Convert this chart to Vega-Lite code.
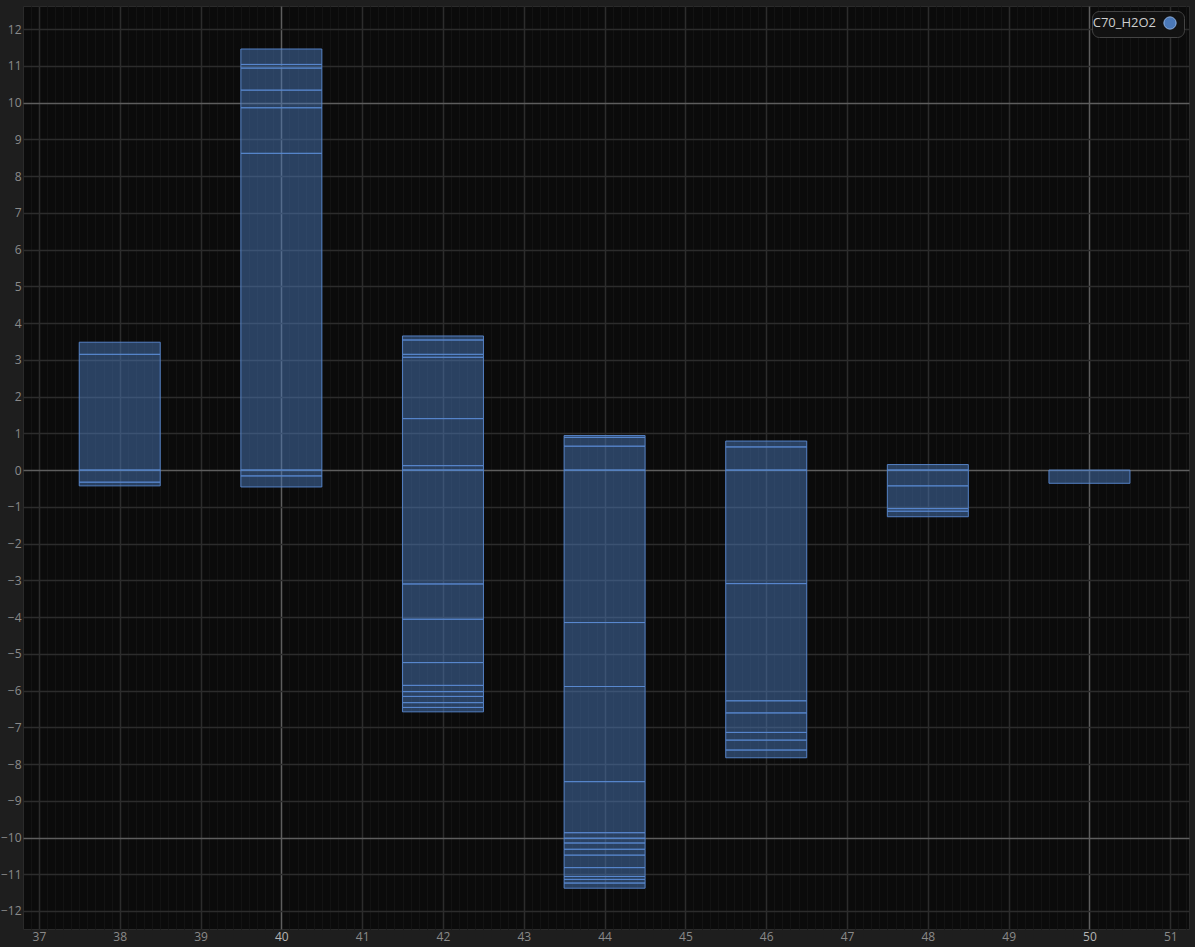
{
  "$schema": "https://vega.github.io/schema/vega-lite/v6.json",
  "autosize": {"type": "fit", "contains": "padding"},
  "width": 1195,
  "height": 947,
  "padding": {"left": 0, "top": 6, "right": 6, "bottom": 5},
  "background": "#1e1e1e",
  "config": {
    "view": {"fill": "#0b0b0b", "stroke": "#2a2a2a"},
    "axis": {"labelFont": "Open Sans", "labelFontSize": 12, "labelColor": "#8a8a8a", "ticks": false, "domain": false, "labelPadding": 2, "title": null}
  },
  "data": {"values": [
    {"x": 38, "y0": 0, "y1": 3.15},
    {"x": 38, "y0": 3.15, "y1": 3.48},
    {"x": 38, "y0": -0.33, "y1": 0},
    {"x": 38, "y0": -0.43, "y1": -0.33},
    {"x": 40, "y0": 0, "y1": 8.62},
    {"x": 40, "y0": 8.62, "y1": 9.86},
    {"x": 40, "y0": 9.86, "y1": 10.34},
    {"x": 40, "y0": 10.34, "y1": 10.94},
    {"x": 40, "y0": 10.94, "y1": 11.04},
    {"x": 40, "y0": 11.04, "y1": 11.46},
    {"x": 40, "y0": -0.16, "y1": 0},
    {"x": 40, "y0": -0.46, "y1": -0.16},
    {"x": 42, "y0": 0, "y1": 0.12},
    {"x": 42, "y0": 0.12, "y1": 1.40},
    {"x": 42, "y0": 1.40, "y1": 3.07},
    {"x": 42, "y0": 3.07, "y1": 3.15},
    {"x": 42, "y0": 3.15, "y1": 3.54},
    {"x": 42, "y0": 3.54, "y1": 3.65},
    {"x": 42, "y0": -3.10, "y1": 0},
    {"x": 42, "y0": -4.06, "y1": -3.10},
    {"x": 42, "y0": -5.24, "y1": -4.06},
    {"x": 42, "y0": -5.86, "y1": -5.24},
    {"x": 42, "y0": -6.03, "y1": -5.86},
    {"x": 42, "y0": -6.16, "y1": -6.03},
    {"x": 42, "y0": -6.33, "y1": -6.16},
    {"x": 42, "y0": -6.46, "y1": -6.33},
    {"x": 42, "y0": -6.58, "y1": -6.46},
    {"x": 44, "y0": 0, "y1": 0.65},
    {"x": 44, "y0": 0.65, "y1": 0.89},
    {"x": 44, "y0": 0.89, "y1": 0.94},
    {"x": 44, "y0": -4.15, "y1": 0},
    {"x": 44, "y0": -5.89, "y1": -4.15},
    {"x": 44, "y0": -8.48, "y1": -5.89},
    {"x": 44, "y0": -9.87, "y1": -8.48},
    {"x": 44, "y0": -10.02, "y1": -9.87},
    {"x": 44, "y0": -10.15, "y1": -10.02},
    {"x": 44, "y0": -10.32, "y1": -10.15},
    {"x": 44, "y0": -10.48, "y1": -10.32},
    {"x": 44, "y0": -10.82, "y1": -10.48},
    {"x": 44, "y0": -11.06, "y1": -10.82},
    {"x": 44, "y0": -11.14, "y1": -11.06},
    {"x": 44, "y0": -11.24, "y1": -11.14},
    {"x": 44, "y0": -11.38, "y1": -11.24},
    {"x": 46, "y0": 0, "y1": 0.63},
    {"x": 46, "y0": 0.63, "y1": 0.79},
    {"x": 46, "y0": -3.09, "y1": 0},
    {"x": 46, "y0": -6.28, "y1": -3.09},
    {"x": 46, "y0": -6.61, "y1": -6.28},
    {"x": 46, "y0": -7.14, "y1": -6.61},
    {"x": 46, "y0": -7.35, "y1": -7.14},
    {"x": 46, "y0": -7.62, "y1": -7.35},
    {"x": 46, "y0": -7.83, "y1": -7.62},
    {"x": 48, "y0": 0, "y1": 0.15},
    {"x": 48, "y0": -0.43, "y1": 0},
    {"x": 48, "y0": -1.05, "y1": -0.43},
    {"x": 48, "y0": -1.12, "y1": -1.05},
    {"x": 48, "y0": -1.27, "y1": -1.12},
    {"x": 50, "y0": -0.36, "y1": 0}
  ]},
  "resolve": {"axis": {"x": "independent"}},
  "layer": [
    {
      "mark": {"type": "bar", "size": 81, "opacity": 0},
      "encoding": {
        "x": {"field": "x", "type": "quantitative", "scale": {"domain": [36.865, 51.17], "nice": false, "zero": false},
          "axis": {"orient": "bottom", "tickCount": 143, "labels": false, "grid": true, "gridColor": "#131313", "gridWidth": 1}},
        "y": {"field": "y0", "type": "quantitative", "scale": {"domain": [-12.49, 12.63], "nice": false, "zero": false},
          "axis": {"values": [-12,-11,-10,-9,-8,-7,-6,-5,-4,-3,-2,-1,0,1,2,3,4,5,6,7,8,9,10,11,12], "grid": true,
            "gridColor": {"condition": {"test": "datum.value % 10 === 0", "value": "#5e5e5e"}, "value": "#2c2c2c"}, "gridWidth": 1.5}},
        "y2": {"field": "y1"}
      }
    },
    {
      "mark": {"type": "bar", "size": 81, "fillOpacity": 0.5, "stroke": "#5a8ad2", "strokeWidth": 1, "strokeOpacity": 0.9},
      "encoding": {
        "x": {"field": "x", "type": "quantitative",
          "axis": {"orient": "bottom", "values": [37,38,39,40,41,42,43,44,45,46,47,48,49,50,51], "grid": true,
            "gridColor": {"condition": {"test": "datum.value % 10 === 0", "value": "#5e5e5e"}, "value": "#2c2c2c"}, "gridWidth": 1.5,
            "labelColor": {"condition": {"test": "datum.value % 10 === 0", "value": "#b5b5b5"}, "value": "#8a8a8a"}}},
        "y": {"field": "y0", "type": "quantitative", "scale": {"domain": [-12.49, 12.63], "nice": false, "zero": false},
          "axis": {"values": [-12,-11,-10,-9,-8,-7,-6,-5,-4,-3,-2,-1,0,1,2,3,4,5,6,7,8,9,10,11,12], "grid": true,
            "gridColor": {"condition": {"test": "datum.value % 10 === 0", "value": "#5e5e5e"}, "value": "#2c2c2c"}, "gridWidth": 1.5}},
        "y2": {"field": "y1"},
        "color": {"datum": "C70_H2O2", "type": "nominal", "scale": {"range": ["#4a78b8"]},
          "legend": {"title": null, "orient": "top-right", "offset": 5, "symbolType": "circle", "symbolSize": 150, "symbolOpacity": 1,
            "symbolStrokeColor": "#8fb4e8", "symbolStrokeWidth": 1,
            "symbolOffset": 66, "labelAlign": "right", "labelOffset": -21,
            "labelColor": "#cfcfcf", "labelFont": "Open Sans", "labelFontSize": 13,
            "fillColor": "#121212", "strokeColor": "#444444", "cornerRadius": 7, "padding": 5}}
      }
    }
  ]
}
